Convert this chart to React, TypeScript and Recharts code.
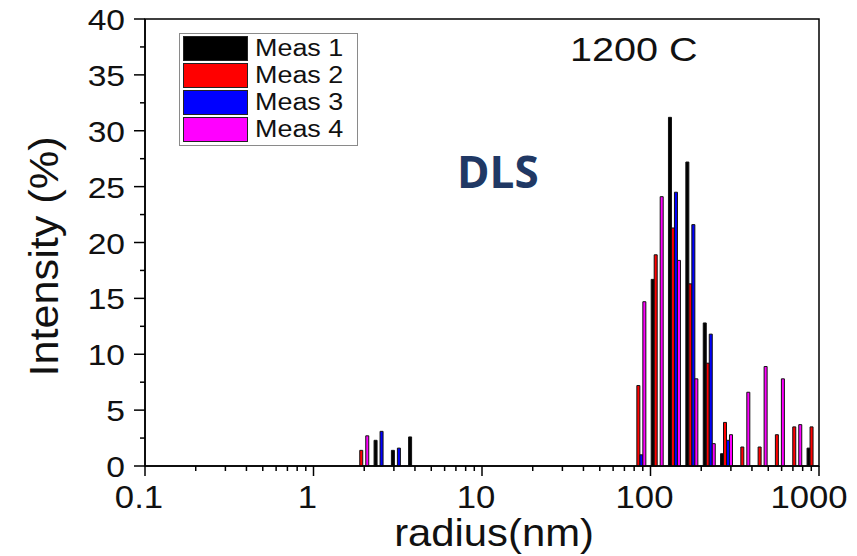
import React from 'react';
import { BarChart, Bar, XAxis, YAxis, Legend, ReferenceArea } from 'recharts';

// histogram bins (nm)
const radius = [1.95, 2.47, 3.13, 3.96, 86, 109, 138, 175, 222, 281, 356, 451, 571, 724, 917];
const meas1 = [null, 2.3, 1.4, 2.6, null, 16.7, 31.2, 27.2, 12.8, 1.1, null, null, null, null, 1.6];
const meas2 = [1.4, null, null, null, 7.2, 18.9, 21.3, 16.3, 9.2, 3.9, 1.7, 1.7, 2.8, 3.5, 3.5];
const meas3 = [null, 3.1, 1.6, null, 1.0, null, 24.5, 21.6, 11.8, 2.3, null, null, null, null, null];
const meas4 = [2.7, null, null, null, 14.7, 24.1, 18.4, 7.8, 2.0, 2.8, 6.6, 8.9, 7.8, 3.7, null];

const seriesNames = ['Meas 1', 'Meas 2', 'Meas 3', 'Meas 4'];
const seriesColors = ['#000000', '#ff0000', '#0000ff', '#ff00ff'];

const xTicks = [
  0.1, 0.2, 0.3, 0.4, 0.5, 0.6, 0.7, 0.8, 0.9,
  1, 2, 3, 4, 5, 6, 7, 8, 9,
  10, 20, 30, 40, 50, 60, 70, 80, 90,
  100, 200, 300, 400, 500, 600, 700, 800, 900, 1000,
];
const xMajor = [0.1, 1, 10, 100, 1000];
const yTicks = [0, 2.5, 5, 7.5, 10, 12.5, 15, 17.5, 20, 22.5, 25, 27.5, 30, 32.5, 35, 37.5, 40];

const data = radius.map((r, i) => ({
  r,
  meas1: meas1[i],
  meas2: meas2[i],
  meas3: meas3[i],
  meas4: meas4[i],
}));

const FONT = '"Liberation Sans", Arial, sans-serif';

const XTick = (props: any) => {
  const { x, y, payload } = props;
  const major = xMajor.includes(payload.value);
  // the 1000 label sits a bit further left so it stays inside the picture
  const shift = payload.value === 1000 ? -10 : -6;
  return (
    <g>
      <line x1={x} x2={x} y1={y} y2={y + (major ? 10 : 5)} stroke="#000" strokeWidth={1.5} />
      {major && (
        <text transform={`translate(${x + shift},${y + 42}) scale(1.12,1)`} textAnchor="middle"
          fontSize={31} fontFamily={FONT} fill="#111">
          {String(payload.value)}
        </text>
      )}
    </g>
  );
};

const YTick = (props: any) => {
  const { x, y, payload } = props;
  const major = payload.value % 5 === 0;
  return (
    <g>
      <line x1={x} x2={x - (major ? 11 : 5)} y1={y} y2={y} stroke="#000" strokeWidth={1.5} />
      {major && (
        <text transform={`translate(${x - 20},${y + 11}) scale(1.12,1)`} textAnchor="end"
          fontSize={30} fontFamily={FONT} fill="#111">
          {String(payload.value)}
        </text>
      )}
    </g>
  );
};

const XTitle = (props: any) => {
  const { x, y, width } = props.viewBox;
  return (
    <text transform={`translate(${x + width / 2 + 12},${y + 80}) scale(1.1,1)`} textAnchor="middle"
      fontSize={38} fontFamily={FONT} fill="#111">
      radius(nm)
    </text>
  );
};

const YTitle = (props: any) => {
  const { y, height } = props.viewBox;
  return (
    <text transform={`translate(58,${y + height / 2 + 14}) rotate(-90) scale(1.08,1)`} textAnchor="middle"
      fontSize={40} fontFamily={FONT} fill="#111">
      Intensity (%)
    </text>
  );
};

const renderLegend = () => (
  <div style={{ border: '1px solid #8a8a8a', background: '#fff', padding: '1px 0 2px 3px', width: 174 }}>
    {seriesNames.map((name, i) => (
      <div key={name} style={{ display: 'flex', alignItems: 'center', height: 27 }}>
        <div style={{ width: 63, height: 23, background: seriesColors[i], border: '1px solid #222' }} />
        <span style={{ display: 'inline-block', marginLeft: 7, fontSize: 23, fontFamily: FONT, color: '#111',
          transform: 'scaleX(1.17)', transformOrigin: 'left center', lineHeight: '27px' }}>
          {name}
        </span>
      </div>
    ))}
  </div>
);

export default function App() {
  return (
    <div style={{ position: 'absolute', left: 0, top: 0, width: 857, height: 556, background: '#fff' }}>
      <BarChart width={857} height={556} data={data} barSize={3} barGap={0}
        margin={{ top: 19, right: 38, bottom: 0, left: 0 }}>
        <XAxis dataKey="r" type="number" scale="log" domain={[0.1, 1000]} allowDataOverflow
          ticks={xTicks} interval={0} tick={<XTick />} tickLine={false} tickSize={0} tickMargin={0}
          height={90} axisLine={{ stroke: '#000', strokeWidth: 1.5 }} label={<XTitle />} />
        <YAxis type="number" domain={[0, 40]} ticks={yTicks} interval={0} tick={<YTick />}
          tickLine={false} tickSize={0} tickMargin={0} width={145}
          axisLine={{ stroke: '#000', strokeWidth: 1.5 }} label={<YTitle />} />
        <ReferenceArea x1={0.1} x2={1000} y1={0} y2={40} fill="none" stroke="#000" strokeWidth={1.5} />
        <Legend layout="vertical" align="center" verticalAlign="middle" content={renderLegend}
          wrapperStyle={{ left: 179, top: 33, width: 178 }} />
        {['meas1', 'meas2', 'meas3', 'meas4'].map((key, i) => (
          <Bar key={key} dataKey={key} name={seriesNames[i]} fill={seriesColors[i]}
            stroke="#111" strokeWidth={1} isAnimationActive={false} />
        ))}
      </BarChart>
      <div style={{ position: 'absolute', left: 570, top: 30, fontSize: 33, fontFamily: FONT, color: '#111',
        transform: 'scaleX(1.2)', transformOrigin: 'left top', lineHeight: '40px' }}>
        1200 C
      </div>
      <div style={{ position: 'absolute', left: 457, top: 141, fontSize: 44, fontWeight: 700,
        fontFamily: '"Open Sans", sans-serif', color: '#203864', lineHeight: '60px' }}>
        DLS
      </div>
    </div>
  );
}
